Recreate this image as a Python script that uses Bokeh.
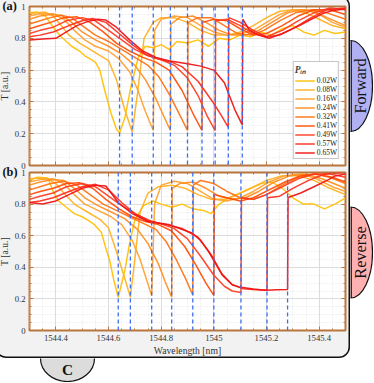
from bokeh.plotting import figure
from bokeh.layouts import column, row
from bokeh.models import (Range1d, LinearAxis, Legend, LegendItem, Span,
                          SingleIntervalTicker, CustomJSTickFormatter)
from bokeh.embed import file_html
from bokeh.resources import INLINE
from bokeh.core.properties import value
import math

# ---------------- data ----------------
powers = ["0.02W", "0.08W", "0.16W", "0.24W", "0.32W", "0.41W", "0.49W", "0.57W", "0.65W"]
colors = ["#FFC000", "#FFB020", "#FFA030", "#FF8C1A", "#FF7010", "#FF4A00", "#FF3A20", "#FF2A1A", "#EE1010"]

fwd_dips = [1544.642, 1544.69, 1544.77, 1544.835, 1544.90, 1544.955, 1545.005, 1545.055, 1545.108]
rev_dips = [1544.637, 1544.683, 1544.764, 1544.84, 1544.92, 1545.0, 1545.103, 1545.202, 1545.28]

F0 = [(1544.30,.96),(1544.33,.965),(1544.36,.94),(1544.39,.87),(1544.42,.81),(1544.44,.78),(1544.46,.75),(1544.49,.72),(1544.51,.69),(1544.53,.67),(1544.55,.65),(1544.567,.60),(1544.586,.47),(1544.611,.32),(1544.63,.23),(1544.642,.205),(1544.662,.30),(1544.687,.51),(1544.713,.68),(1544.74,.75),(1544.77,.74),(1544.80,.76),(1544.83,.73),(1544.86,.78),(1544.90,.77),(1544.94,.79),(1544.98,.75),(1545.02,.80),(1545.06,.79),(1545.10,.82),(1545.14,.81),(1545.18,.84),(1545.22,.82),(1545.26,.86),(1545.30,.88),(1545.34,.84),(1545.38,.82),(1545.42,.85),(1545.46,.83),(1545.50,.84)]
F1 = [(1544.30,.955),(1544.33,.96),(1544.36,.965),(1544.39,.94),(1544.42,.88),(1544.45,.82),(1544.49,.77),(1544.53,.73),(1544.57,.69),(1544.60,.66),(1544.63,.54),(1544.66,.36),(1544.69,.21),(1544.71,.45),(1544.735,.80),(1544.77,.90),(1544.80,.93),(1544.85,.93),(1544.90,.90),(1544.95,.85),(1545.00,.82),(1545.05,.82),(1545.10,.84),(1545.15,.88),(1545.20,.93),(1545.25,.97),(1545.30,.98),(1545.35,.96),(1545.40,.92),(1545.45,.88),(1545.50,.86)]
F2 = [(1544.30,.94),(1544.34,.955),(1544.39,.955),(1544.43,.92),(1544.47,.85),(1544.51,.79),(1544.55,.75),(1544.60,.72),(1544.64,.67),(1544.68,.59),(1544.71,.48),(1544.74,.34),(1544.77,.22),(1544.775,.85),(1544.80,.92),(1544.85,.94),(1544.90,.93),(1544.95,.88),(1545.00,.84),(1545.05,.82),(1545.10,.83),(1545.15,.85),(1545.20,.90),(1545.25,.95),(1545.30,.98),(1545.35,.98),(1545.40,.95),(1545.45,.90),(1545.50,.87)]
F3 = [(1544.30,.92),(1544.34,.94),(1544.38,.95),(1544.42,.945),(1544.46,.90),(1544.50,.84),(1544.55,.79),(1544.60,.75),(1544.65,.70),(1544.70,.63),(1544.74,.54),(1544.78,.42),(1544.81,.31),(1544.835,.22),(1544.837,.89),(1544.87,.93),(1544.92,.94),(1544.97,.90),(1545.02,.85),(1545.07,.82),(1545.12,.82),(1545.17,.85),(1545.22,.90),(1545.28,.96),(1545.33,.98),(1545.38,.97),(1545.43,.93),(1545.50,.88)]
F4 = [(1544.30,.89),(1544.34,.91),(1544.38,.93),(1544.42,.945),(1544.46,.93),(1544.50,.88),(1544.55,.82),(1544.60,.78),(1544.65,.73),(1544.70,.68),(1544.75,.63),(1544.79,.56),(1544.83,.45),(1544.87,.32),(1544.90,.22),(1544.902,.90),(1544.94,.93),(1544.99,.93),(1545.04,.88),(1545.09,.83),(1545.14,.82),(1545.19,.85),(1545.25,.91),(1545.31,.96),(1545.37,.98),(1545.43,.96),(1545.50,.92)]
F5 = [(1544.30,.86),(1544.34,.88),(1544.38,.90),(1544.43,.93),(1544.48,.935),(1544.53,.90),(1544.58,.84),(1544.63,.77),(1544.68,.72),(1544.73,.68),(1544.78,.65),(1544.83,.60),(1544.88,.47),(1544.92,.33),(1544.955,.22),(1544.957,.90),(1545.00,.92),(1545.05,.91),(1545.10,.86),(1545.15,.82),(1545.20,.83),(1545.26,.88),(1545.32,.94),(1545.38,.98),(1545.44,.98),(1545.50,.95)]
F6 = [(1544.30,.83),(1544.34,.85),(1544.39,.87),(1544.44,.91),(1544.50,.93),(1544.55,.91),(1544.60,.85),(1544.65,.79),(1544.70,.73),(1544.75,.69),(1544.80,.665),(1544.85,.63),(1544.90,.55),(1544.94,.44),(1544.975,.31),(1545.005,.22),(1545.007,.91),(1545.05,.92),(1545.10,.88),(1545.15,.83),(1545.20,.81),(1545.26,.85),(1545.32,.91),(1545.38,.96),(1545.44,.99),(1545.50,.98)]
F7 = [(1544.30,.81),(1544.34,.82),(1544.39,.84),(1544.45,.88),(1544.50,.91),(1544.54,.925),(1544.59,.90),(1544.64,.83),(1544.69,.76),(1544.74,.70),(1544.79,.67),(1544.84,.65),(1544.88,.62),(1544.94,.53),(1545.00,.39),(1545.03,.31),(1545.055,.24),(1545.057,.93),(1545.10,.90),(1545.15,.85),(1545.20,.81),(1545.25,.82),(1545.31,.87),(1545.37,.93),(1545.43,.98),(1545.50,.99)]
F8 = [(1544.30,.79),(1544.35,.795),(1544.40,.80),(1544.44,.84),(1544.48,.88),(1544.52,.905),(1544.56,.92),(1544.59,.915),(1544.63,.87),(1544.68,.79),(1544.73,.72),(1544.78,.68),(1544.84,.655),(1544.90,.64),(1544.95,.625),(1545.00,.60),(1545.04,.52),(1545.08,.35),(1545.108,.256),(1545.11,.92),(1545.134,.855),(1545.17,.82),(1545.21,.80),(1545.26,.83),(1545.325,.88),(1545.37,.92),(1545.413,.955),(1545.45,.975),(1545.50,.985)]

R0 = [(1544.30,.95),(1544.33,.97),(1544.37,.965),(1544.39,.88),(1544.41,.82),(1544.44,.78),(1544.47,.74),(1544.50,.72),(1544.52,.70),(1544.547,.67),(1544.573,.62),(1544.59,.52),(1544.605,.44),(1544.62,.32),(1544.637,.21),(1544.662,.38),(1544.68,.55),(1544.70,.70),(1544.733,.79),(1544.77,.82),(1544.80,.80),(1544.84,.78),(1544.88,.80),(1544.92,.77),(1544.96,.76),(1544.99,.74),(1545.02,.80),(1545.06,.84),(1545.10,.87),(1545.14,.90),(1545.18,.93),(1545.22,.94),(1545.26,.90),(1545.30,.84),(1545.34,.80),(1545.38,.80),(1545.42,.77),(1545.46,.80),(1545.50,.84)]
R1 = [(1544.30,.96),(1544.34,.965),(1544.37,.96),(1544.40,.93),(1544.43,.87),(1544.47,.80),(1544.52,.75),(1544.57,.70),(1544.60,.65),(1544.63,.50),(1544.66,.34),(1544.683,.21),(1544.70,.45),(1544.72,.75),(1544.75,.87),(1544.79,.91),(1544.84,.92),(1544.89,.90),(1544.94,.86),(1544.99,.83),(1545.04,.83),(1545.09,.86),(1545.14,.90),(1545.20,.95),(1545.26,.98),(1545.32,.98),(1545.38,.95),(1545.44,.90),(1545.50,.86)]
R2 = [(1544.30,.94),(1544.34,.955),(1544.39,.96),(1544.43,.93),(1544.47,.86),(1544.51,.80),(1544.56,.76),(1544.61,.72),(1544.65,.67),(1544.69,.57),(1544.72,.45),(1544.745,.32),(1544.764,.22),(1544.775,.80),(1544.80,.92),(1544.85,.945),(1544.90,.93),(1544.95,.88),(1545.00,.83),(1545.05,.82),(1545.10,.84),(1545.15,.88),(1545.21,.94),(1545.27,.98),(1545.33,.99),(1545.39,.96),(1545.45,.91),(1545.50,.88)]
R3 = [(1544.30,.92),(1544.34,.94),(1544.39,.955),(1544.43,.95),(1544.47,.90),(1544.51,.84),(1544.56,.79),(1544.61,.75),(1544.66,.71),(1544.71,.64),(1544.75,.55),(1544.79,.42),(1544.815,.31),(1544.84,.21),(1544.842,.90),(1544.87,.93),(1544.92,.94),(1544.97,.90),(1545.02,.85),(1545.07,.83),(1545.12,.84),(1545.17,.88),(1545.23,.94),(1545.29,.98),(1545.35,.99),(1545.41,.96),(1545.50,.90)]
R4 = [(1544.30,.89),(1544.34,.91),(1544.38,.93),(1544.43,.945),(1544.48,.92),(1544.53,.86),(1544.58,.80),(1544.63,.76),(1544.68,.72),(1544.73,.68),(1544.78,.64),(1544.82,.56),(1544.86,.44),(1544.895,.32),(1544.92,.225),(1544.922,.92),(1544.95,.95),(1545.00,.93),(1545.05,.88),(1545.10,.84),(1545.15,.83),(1545.20,.86),(1545.26,.92),(1545.32,.97),(1545.38,.99),(1545.44,.97),(1545.50,.93)]
R5 = [(1544.30,.86),(1544.34,.88),(1544.39,.90),(1544.44,.93),(1544.49,.935),(1544.54,.90),(1544.59,.83),(1544.64,.77),(1544.69,.72),(1544.74,.69),(1544.79,.67),(1544.84,.63),(1544.89,.53),(1544.93,.42),(1544.97,.30),(1545.00,.222),(1545.002,.86),(1545.05,.84),(1545.10,.82),(1545.15,.84),(1545.21,.89),(1545.27,.94),(1545.33,.98),(1545.39,.99),(1545.45,.97),(1545.50,.94)]
R6 = [(1544.30,.83),(1544.34,.85),(1544.39,.87),(1544.44,.91),(1544.50,.93),(1544.55,.91),(1544.60,.85),(1544.65,.79),(1544.70,.74),(1544.75,.70),(1544.80,.675),(1544.85,.645),(1544.90,.58),(1544.95,.47),(1545.00,.35),(1545.04,.28),(1545.07,.25),(1545.103,.24),(1545.105,.84),(1545.15,.83),(1545.20,.86),(1545.26,.91),(1545.32,.96),(1545.38,.99),(1545.44,.99),(1545.50,.97)]
R7 = [(1544.30,.81),(1544.34,.82),(1544.39,.84),(1544.45,.88),(1544.50,.91),(1544.55,.925),(1544.60,.89),(1544.65,.81),(1544.70,.74),(1544.76,.69),(1544.82,.67),(1544.88,.645),(1544.94,.59),(1544.99,.48),(1545.03,.36),(1545.07,.29),(1545.11,.265),(1545.16,.258),(1545.202,.255),(1545.204,.84),(1545.25,.85),(1545.30,.90),(1545.36,.95),(1545.42,.99),(1545.50,1.0)]
R8 = [(1544.30,.81),(1544.35,.80),(1544.40,.82),(1544.45,.86),(1544.50,.90),(1544.55,.92),(1544.59,.915),(1544.637,.81),(1544.69,.74),(1544.75,.69),(1544.828,.671),(1544.917,.617),(1544.95,.57),(1544.98,.50),(1545.032,.35),(1545.07,.29),(1545.095,.276),(1545.15,.262),(1545.197,.254),(1545.24,.258),(1545.28,.26),(1545.282,.842),(1545.33,.87),(1545.38,.91),(1545.43,.95),(1545.464,.98),(1545.50,.99)]

forward_curves = [F0, F1, F2, F3, F4, F5, F6, F7, F8]
reverse_curves = [R0, R1, R2, R3, R4, R5, R6, R7, R8]

# ---------------- styling ----------------
SERIF = "Liberation Serif"
FRAME = "#B8763E"
DASH_BLUE = "#3D6FF2"
CARD_W = 355
CARD_H = 363
TAB_W = 23
CTAB_H = 24
X0, X1 = 1544.3, 1545.5

label_fmt = CustomJSTickFormatter(code="return String(Number(tick.toFixed(2)));")


def blank_axis(ax):
    ax.formatter = CustomJSTickFormatter(code="return '';")
    ax.major_label_text_font_size = "0px"
    ax.major_label_standoff = 0


def style_axis(ax, interval):
    ax.ticker = SingleIntervalTicker(interval=interval, num_minor_ticks=4)
    ax.axis_line_color = None
    ax.major_tick_in = 4
    ax.major_tick_out = 0
    ax.minor_tick_in = 2
    ax.minor_tick_out = 0
    ax.major_tick_line_color = FRAME
    ax.minor_tick_line_color = FRAME
    ax.major_label_text_font = SERIF
    ax.major_label_text_font_size = "8.7px"
    ax.major_label_text_color = "#333333"
    ax.axis_label_text_font = SERIF
    ax.axis_label_text_font_style = "normal"
    ax.axis_label_text_font_size = "9.7px"
    ax.axis_label_text_color = "#333333"


def make_panel(curves, dips, tag, height, b_top, b_bottom, x_labels, with_legend, margin=None):
    p = figure(width=CARD_W, height=height,
               x_range=Range1d(X0, X1), y_range=Range1d(0, 1),
               output_backend="svg", toolbar_location=None,
               min_border_left=30, min_border_right=5,
               min_border_top=b_top, min_border_bottom=b_bottom,
               background_fill_color="white", border_fill_color=None)
    if margin is not None:
        p.margin = margin
    p.outline_line_color = FRAME
    p.outline_line_width = 2

    # panel tag "(a)" / "(b)": a left-aligned title pulled left of the frame
    p.title.text = tag
    p.title.align = "left"
    p.title.offset = -27
    p.title.standoff = -12
    p.title.text_font = SERIF
    p.title.text_font_style = "bold"
    p.title.text_font_size = "12.3px"
    p.title.text_color = "#111111"

    style_axis(p.xaxis[0], 0.2)
    style_axis(p.yaxis[0], 0.2)
    p.yaxis[0].formatter = label_fmt
    p.yaxis[0].major_label_standoff = 4
    p.yaxis[0].axis_label = "T [a.u.]"
    p.yaxis[0].axis_label_standoff = 2
    if x_labels:
        p.xaxis[0].formatter = label_fmt
        p.xaxis[0].major_label_standoff = 4
        p.xaxis[0].axis_label = "Wavelength [nm]"
        p.xaxis[0].axis_label_standoff = 1
    else:
        blank_axis(p.xaxis[0])

    top = LinearAxis()
    style_axis(top, 0.2)
    blank_axis(top)
    p.add_layout(top, "above")
    right = LinearAxis()
    style_axis(right, 0.2)
    blank_axis(right)
    p.add_layout(right, "right")

    for g in (p.xgrid[0], p.ygrid[0]):
        g.ticker = SingleIntervalTicker(interval=0.2, num_minor_ticks=4)
        g.grid_line_color = "#DCDCDC"
        g.grid_line_width = 1
        g.minor_grid_line_color = "#E4E4E4"
        g.minor_grid_line_dash = "1 2"

    renderers = []
    for pts, col in zip(curves, colors):
        xs = [a for a, b in pts]
        ts = [b for a, b in pts]
        r = p.line(xs, ts, line_color=col, line_width=1.5, line_alpha=0.92)
        renderers.append(r)

    for d in dips:
        p.add_layout(Span(location=d, dimension="height", line_color=DASH_BLUE,
                          line_width=1.3, line_dash="4 3"))

    if with_legend:
        legend = Legend(items=[LegendItem(label=pw, renderers=[r]) for pw, r in zip(powers, renderers)],
                        location="bottom_right", title="Pᵢₙ")
        legend.title_text_font = SERIF
        legend.title_text_font_style = "bold italic"
        legend.title_text_font_size = "9.5px"
        legend.title_standoff = 0
        legend.label_text_font = SERIF
        legend.label_text_font_size = "7.5px"
        legend.label_text_color = "#222222"
        legend.glyph_width = 20
        legend.glyph_height = 9
        legend.label_height = 9
        legend.label_standoff = 2
        legend.spacing = 0
        legend.padding = 1
        legend.margin = 6
        legend.border_line_color = "#8C8C8C"
        legend.border_line_width = 1
        legend.background_fill_color = "white"
        legend.background_fill_alpha = 1
        p.add_layout(legend)
    return p


# card height 363 = (11 + 159 + 10) + (11 + 159 + 27) - 14 overlap
pa = make_panel(forward_curves, fwd_dips, "(a)", 180, 11, 10, False, True)
pb = make_panel(reverse_curves, rev_dips, "(b)", 197, 11, 27, True, False, margin=(-14, 0, 0, 0))

card = column(pa, pb, spacing=0,
              styles={"background-color": "#F2F2F2", "border-radius": "11px",
                      "box-shadow": "inset 0 0 0 1.5px #111111"})

# ---------------- side tabs ----------------
tabs = figure(width=TAB_W, height=CARD_H, x_range=Range1d(0, TAB_W), y_range=Range1d(CARD_H, 0),
              output_backend="svg", toolbar_location=None, min_border=0,
              x_axis_location=None, y_axis_location=None,
              background_fill_color=None, border_fill_color=None, outline_line_color=None)
tabs.grid.visible = False
tab_names = ["Forward", "Reverse"]
tab_fill = ["#B0B0F2", "#FFB0B0"]
tab_center = [90.5, 257]
tab_h = 91
tabs.ellipse(x=[0, 0], y=tab_center, width=[44, 44], height=[tab_h, tab_h],
             fill_color=tab_fill, line_color="#111111", line_width=1.2)
tabs.segment(x0=[0.6, 0.6], y0=[c - tab_h / 2 for c in tab_center], x1=[0.6, 0.6],
             y1=[c + tab_h / 2 for c in tab_center], line_color="#111111", line_width=1.5)
tabs.text(x=[9.8, 9.8], y=tab_center, text=tab_names, angle=math.pi / 2,
          text_font=value(SERIF), text_font_size=value("16.3px"), text_color="#111111",
          text_align="center", text_baseline="middle")

ctab = figure(width=CARD_W, height=CTAB_H, x_range=Range1d(0, CARD_W), y_range=Range1d(CTAB_H, 0),
              output_backend="svg", toolbar_location=None, min_border=0,
              x_axis_location=None, y_axis_location=None,
              background_fill_color=None, border_fill_color=None, outline_line_color=None)
ctab.grid.visible = False
ctab.ellipse(x=[72], y=[0], width=[54], height=[46], fill_color="#DCDCDC",
             line_color="#111111", line_width=1.2)
ctab.text(x=[72], y=[11], text=["C"], text_font=value(SERIF),
          text_font_style="bold", text_font_size=value("15.3px"), text_color="#111111",
          text_align="center", text_baseline="middle")

layout = row(column(card, ctab, spacing=0), tabs, spacing=0,
             styles={"margin-left": "-5px", "margin-top": "-5px"})

open("out.html", "w").write(file_html(layout, INLINE))
